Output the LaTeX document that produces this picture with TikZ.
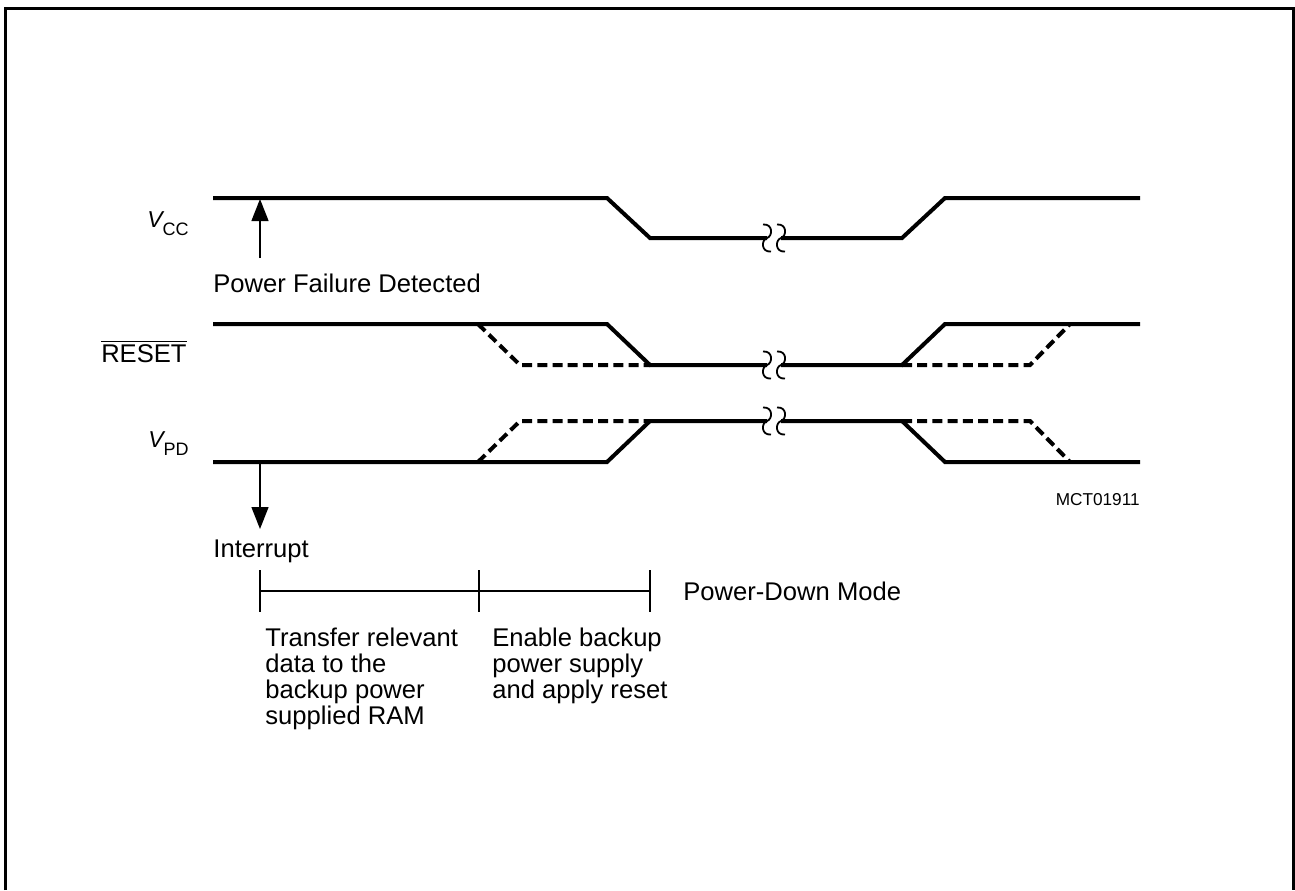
\documentclass[tikz,border=0pt]{standalone}
\usepackage{fontspec}
\setmainfont{Liberation Sans}
\usetikzlibrary{arrows.meta}
\begin{document}
\begin{tikzpicture}[x=0.5pt,y=-0.5pt,
  sig/.style={line width=2pt},
  dsig/.style={line width=2pt, dash pattern=on 5pt off 2.6pt},
  thinline/.style={line width=0.7pt},
  frame/.style={line width=1.5pt},
  lbl/.style={inner sep=0pt, font=\fontsize{12.8}{13}\selectfont},
  small/.style={inner sep=0pt, font=\fontsize{8.6}{10}\selectfont},
  arr/.style={thinline, -{Triangle[length=11pt,width=8.5pt]}},
  brk/.pic={\draw[line width=0.9pt] (-4,-13.5) .. controls (6,-14.5) and (6,-2) .. (0,0) .. controls (-6,2) and (-6,14.5) .. (4,13.5);}
]
\useasboundingbox (0,0) rectangle (1295,890);
% frame
\draw[frame] (5,890) -- (5,8) -- (1293.5,8) -- (1293.5,890);

% labels
\node[inner sep=0pt, anchor=base east] (vcc) at (189,227) {\fontsize{11.5}{12}\selectfont\itshape V\raisebox{-4pt}{\fontsize{9}{10}\selectfont\upshape CC}};
\node[lbl, anchor=base east] (rst) at (187,362) {$\overline{\mbox{RESET}}$};
\node[inner sep=0pt, anchor=base east] (vpd) at (189,447) {\fontsize{11.5}{12}\selectfont\itshape V\raisebox{-4pt}{\fontsize{9}{10}\selectfont\upshape PD}};

% Vcc waveform
\draw[sig] (213,198) -- (607,198) -- (650,238) -- (767,238);
\draw[sig] (781,238) -- (902,238) -- (945,198) -- (1140,198);
\pic at (767,238) {brk};
\pic at (781,238) {brk};

% RESET waveform
\draw[sig] (213,324) -- (607,324) -- (650,365) -- (767,365);
\draw[sig] (781,365) -- (902,365) -- (945,324) -- (1140,324);
\draw[dsig] (478,324) -- (520,365) -- (650,365);
\draw[dsig] (902,365) -- (1030,365) -- (1070,324);
\pic at (767,365) {brk};
\pic at (781,365) {brk};

% VPD waveform
\draw[sig] (213,462) -- (607,462) -- (650,421) -- (767,421);
\draw[sig] (781,421) -- (902,421) -- (945,462) -- (1140,462);
\draw[dsig] (478,462) -- (520,421) -- (650,421);
\draw[dsig] (902,421) -- (1030,421) -- (1070,462);
\pic at (767,421) {brk};
\pic at (781,421) {brk};

% arrows
\coordinate (pfd0) at (260,258);
\coordinate (pfd1) at (260,199);
\draw[arr] (pfd0) -- (pfd1);
\node[lbl, anchor=base west] (pfd) at (213,292) {Power Failure Detected};
\coordinate (int0) at (260,462);
\coordinate (int1) at (260,529);
\draw[arr] (int0) -- (int1);
\node[lbl, anchor=base west] (int) at (213,557) {Interrupt};

\node[small, anchor=base east] (mct) at (1140,505) {MCT01911};

% time scale
\coordinate (t0) at (260,591);
\coordinate (t1) at (479,591);
\coordinate (t2) at (650,591);
\draw[thinline] (t0) -- (t2);
\draw[thinline] (260,570) -- (260,612);
\draw[thinline] (479,570) -- (479,612);
\draw[thinline] (650,570) -- (650,612);
\node[lbl, anchor=base west] (pdm) at (683,600) {Power-Down Mode};

\node[lbl, anchor=base west] (tr1) at (265,646) {Transfer relevant};
\node[lbl, anchor=base west] (tr2) at (265,672) {data to the};
\node[lbl, anchor=base west] (tr3) at (265,698) {backup power};
\node[lbl, anchor=base west] (tr4) at (265,724) {supplied RAM};

\node[lbl, anchor=base west] (en1) at (492,646) {Enable backup};
\node[lbl, anchor=base west] (en2) at (492,672) {power supply};
\node[lbl, anchor=base west] (en3) at (492,698) {and apply reset};
\end{tikzpicture}
\end{document}
